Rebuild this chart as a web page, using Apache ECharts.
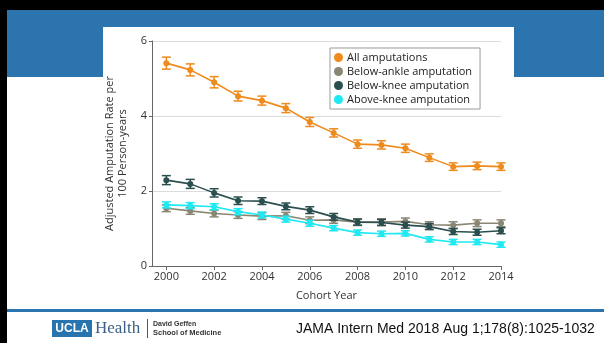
<!DOCTYPE html>
<html>
<head>
<meta charset="utf-8">
<script src="https://cdn.jsdelivr.net/npm/echarts@6/dist/echarts.min.js"></script>
<style>
  html, body { margin: 0; padding: 0; background: #fff; }
  #chart { width: 604px; height: 343px; }
</style>
</head>
<body>
<div id="chart"></div>
<script>
// Cohort years and adjusted amputation rates per 100 person-years
const years = [2000, 2001, 2002, 2003, 2004, 2005, 2006, 2007, 2008, 2009, 2010, 2011, 2012, 2013, 2014];
const xTicks = [2000, 2002, 2004, 2006, 2008, 2010, 2012, 2014];

const allAmputations = [5.41, 5.23, 4.90, 4.53, 4.41, 4.21, 3.84, 3.55, 3.25, 3.23, 3.14, 2.89, 2.65, 2.67, 2.65];
const belowAnkle     = [1.54, 1.47, 1.40, 1.36, 1.33, 1.34, 1.22, 1.23, 1.17, 1.17, 1.19, 1.10, 1.09, 1.14, 1.14];
const belowKnee      = [2.29, 2.19, 1.95, 1.74, 1.73, 1.59, 1.49, 1.31, 1.17, 1.16, 1.09, 1.05, 0.92, 0.90, 0.94];
const aboveKnee      = [1.63, 1.61, 1.58, 1.45, 1.36, 1.25, 1.14, 1.01, 0.89, 0.86, 0.87, 0.71, 0.64, 0.64, 0.57];

// 95% CI half-widths
const allErr   = [0.16, 0.16, 0.15, 0.13, 0.12, 0.12, 0.12, 0.11, 0.11, 0.11, 0.11, 0.10, 0.10, 0.10, 0.10];
const ankleErr = [0.09, 0.09, 0.09, 0.09, 0.09, 0.09, 0.09, 0.09, 0.09, 0.09, 0.09, 0.08, 0.09, 0.09, 0.09];
const kneeErr  = [0.12, 0.12, 0.11, 0.10, 0.09, 0.09, 0.09, 0.09, 0.08, 0.08, 0.08, 0.08, 0.08, 0.08, 0.08];
const aboveErr = [0.08, 0.08, 0.08, 0.08, 0.08, 0.08, 0.08, 0.07, 0.07, 0.07, 0.07, 0.07, 0.07, 0.07, 0.07];

const seriesDefs = [
  { name: 'All amputations',        values: allAmputations, err: allErr,   color: '#ef8a1c' },
  { name: 'Below-ankle amputation', values: belowAnkle,     err: ankleErr, color: '#8a8674' },
  { name: 'Below-knee amputation',  values: belowKnee,      err: kneeErr,  color: '#2a4f4e' },
  { name: 'Above-knee amputation',  values: aboveKnee,      err: aboveErr, color: '#1fe9f2' }
];

const chartFont = '"Open Sans", "DejaVu Sans", sans-serif';
const slideBlue = '#2b74ad';

function errorBarRender(color) {
  return function (params, api) {
    const x = api.value(0);
    const lo = api.coord([x, api.value(1)]);
    const hi = api.coord([x, api.value(2)]);
    const half = 4.5;
    const style = { stroke: color, lineWidth: 1.5, fill: null };
    return {
      type: 'group',
      children: [
        { type: 'line', shape: { x1: lo[0], y1: lo[1], x2: hi[0], y2: hi[1] }, style: style },
        { type: 'line', shape: { x1: lo[0] - half, y1: lo[1], x2: lo[0] + half, y2: lo[1] }, style: style },
        { type: 'line', shape: { x1: hi[0] - half, y1: hi[1], x2: hi[0] + half, y2: hi[1] }, style: style }
      ]
    };
  };
}

const series = [];
seriesDefs.forEach(function (d, i) {
  series.push({
    name: d.name,
    type: 'custom',
    renderItem: errorBarRender(d.color),
    data: years.map(function (y, k) { return [y, d.values[k] - d.err[k], d.values[k] + d.err[k]]; }),
    encode: { x: 0, y: [1, 2] },
    z: 3 + i,
    silent: true
  });
  series.push({
    name: d.name,
    type: 'line',
    data: years.map(function (y, k) { return [y, d.values[k]]; }),
    symbol: 'circle',
    symbolSize: 6,
    itemStyle: { color: d.color },
    lineStyle: { color: d.color, width: 1.6 },
    z: 3 + i,
    animation: false
  });
});

const chart = echarts.init(document.getElementById('chart'), null, { renderer: 'canvas' });
chart.setOption({
  animation: false,
  backgroundColor: '#ffffff',
  textStyle: { fontFamily: chartFont },
  grid: { left: 152, top: 41, width: 349, height: 225, containLabel: false },
  xAxis: {
    type: 'value',
    min: 1999.4,
    max: 2014,
    splitLine: { show: false },
    axisLine: { show: true, lineStyle: { color: '#666', width: 1 } },
    axisTick: { show: true, length: 4, lineStyle: { color: '#666' }, customValues: xTicks },
    axisLabel: {
      customValues: xTicks,
      formatter: function (v) { return String(v); },
      color: '#333', fontSize: 11, margin: 5, fontFamily: chartFont
    },
    name: 'Cohort Year',
    nameLocation: 'middle',
    nameGap: 24,
    nameTextStyle: { color: '#333', fontSize: 11, fontFamily: chartFont }
  },
  yAxis: {
    type: 'value',
    min: 0,
    max: 6,
    interval: 2,
    axisLine: { show: true, lineStyle: { color: '#666', width: 1 } },
    axisTick: { show: true, length: 3, lineStyle: { color: '#666' } },
    axisLabel: { color: '#333', fontSize: 11, margin: 5, fontFamily: chartFont },
    splitLine: { show: true, lineStyle: { color: '#dcdcdc', width: 1 } },
    name: 'Adjusted Amputation Rate per\n100 Person-years',
    nameLocation: 'middle',
    nameGap: 20,
    nameRotate: 90,
    nameTextStyle: { color: '#333', fontSize: 11, lineHeight: 13, fontFamily: chartFont }
  },
  legend: {
    data: seriesDefs.map(function (d) { return { name: d.name, icon: 'circle', itemStyle: { color: d.color } }; }),
    orient: 'vertical',
    left: 330,
    top: 48,
    itemWidth: 9,
    itemHeight: 9,
    itemGap: 3,
    padding: [4, 8, 4, 4],
    borderColor: '#9a9a9a',
    borderWidth: 1,
    backgroundColor: '#fff',
    selectedMode: false,
    textStyle: { color: '#222', fontSize: 11, fontFamily: chartFont, padding: [0, 0, 0, -1] }
  },
  graphic: {
    elements: [
      // slide frame and header band
      { type: 'rect', z: -20, shape: { x: 0, y: 0, width: 604, height: 10 }, style: { fill: '#000' } },
      { type: 'rect', z: -20, shape: { x: 0, y: 0, width: 7, height: 343 }, style: { fill: '#000' } },
      { type: 'rect', z: -20, shape: { x: 7, y: 10, width: 597, height: 67 }, style: { fill: slideBlue } },
      { type: 'rect', z: -19, shape: { x: 103, y: 27, width: 411, height: 282 }, style: { fill: '#fff' } },
      { type: 'rect', z: -19, shape: { x: 7, y: 309, width: 597, height: 3 }, style: { fill: slideBlue } },
      // footer logo
      { type: 'rect', z: 1, shape: { x: 52, y: 320, width: 40, height: 17 }, style: { fill: '#2774ae' } },
      { type: 'text', z: 2, x: 72, y: 328.5, style: { text: 'UCLA', fill: '#fff', font: 'bold 12px "Liberation Sans", Arial, sans-serif', align: 'center', verticalAlign: 'middle' } },
      { type: 'text', z: 2, x: 95, y: 329, style: { text: 'Health', fill: '#3b5f86', font: '17px "Liberation Serif", "DejaVu Serif", serif', align: 'left', verticalAlign: 'middle' } },
      { type: 'rect', z: 2, shape: { x: 147, y: 319, width: 1, height: 19 }, style: { fill: '#555' } },
      { type: 'text', z: 2, x: 153, y: 324.5, style: { text: 'David Geffen', fill: '#333', font: 'bold 7px "Liberation Sans", Arial, sans-serif', align: 'left', verticalAlign: 'middle' } },
      { type: 'text', z: 2, x: 153, y: 333, style: { text: 'School of Medicine', fill: '#333', font: 'bold 7.5px "Liberation Sans", Arial, sans-serif', align: 'left', verticalAlign: 'middle' } },
      { type: 'text', z: 2, x: 296, y: 329, style: { text: 'JAMA Intern Med 2018 Aug 1;178(8):1025-1032', fill: '#111', font: '14px "Liberation Sans", Arial, sans-serif', align: 'left', verticalAlign: 'middle' } }
    ]
  },
  series: series
});
</script>
</body>
</html>
